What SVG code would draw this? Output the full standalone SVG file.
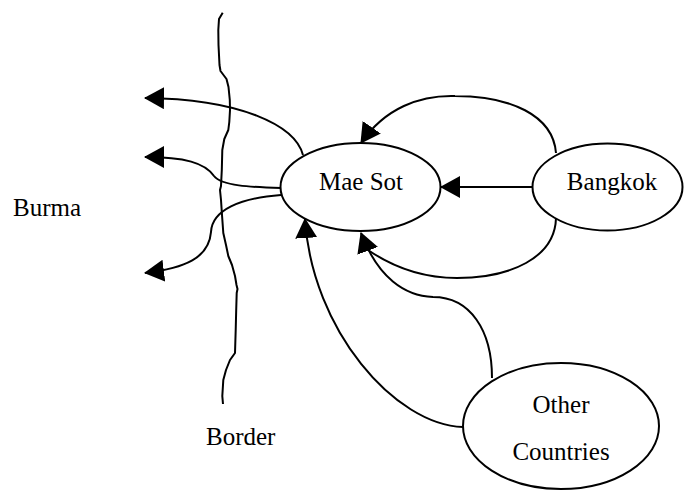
<svg xmlns="http://www.w3.org/2000/svg" width="684" height="491" viewBox="0 0 684 491">
<defs>
<marker id="arrow" markerUnits="userSpaceOnUse" markerWidth="20" markerHeight="22" viewBox="0 0 20 22" refX="19" refY="11" orient="auto">
<path d="M0,0 L20,11 L0,22 z" fill="#000"/>
</marker>
<style>
.node{fill:#fff;stroke:#000;stroke-width:2}
.edge{fill:none;stroke:#000;stroke-width:2}
.arr{marker-end:url(#arrow)}
text{font-family:"Liberation Serif","Times New Roman",serif;font-size:25px;fill:#000}
.c{text-anchor:middle}
</style>
</defs>
<rect width="684" height="491" fill="#fff"/>
<g id="border">
<path class="edge" stroke-linejoin="round" d="M222.7,12.7 L219,19 L218.3,30 L218.5,45 L219.5,65 L220.5,71 L226.5,79 L228.5,87 L229.8,100 L230,110 L229.3,122 L228.3,130 L224.3,139 L222.3,150 L221.8,170 L221,186 L220,190 L221,200 L222,215 L223.3,233 L226,245 L228.3,256 L232,265 L235,276 L236.5,285 L237.5,289 L236.7,293 L236.2,310 L235.7,330 L235,353 L230,360 L226,370 L223.3,380 L222.3,396 L223,404"/>
</g>
<g id="connectors">
<path class="edge arr" d="M532,187 L441,187"/>
<path class="edge arr" d="M556,153 C553,115 510,96 455,96 C420,95 385,108 361,143"/>
<path class="edge" d="M556,218 C555,258 510,278 457,278 C420,278 390,265 368,250"/>
<path class="edge arr" d="M492,378 C492,330 470,297 433,297 C405,296 378,278 361,233"/>
<path class="edge arr" d="M463,427 C395,425 312,330 305,219"/>
<path class="edge arr" d="M303,155 C295,125 240,99 145,98"/>
<path class="edge arr" d="M281,188 C250,187 222,186 214,176 C205,163 185,157 145,157"/>
<path class="edge arr" d="M281,195 C240,198 212,210 211,232 C209,258 185,268 145,273"/>
</g>
<g id="mae-sot">
<ellipse class="node" cx="360.5" cy="187" rx="80" ry="44"/>
<text class="c" x="361" y="190">Mae Sot</text>
</g>
<g id="bangkok">
<ellipse class="node" cx="607.5" cy="187" rx="75" ry="43.5"/>
<text class="c" x="612" y="189.5">Bangkok</text>
</g>
<g id="other-countries">
<ellipse class="node" cx="561" cy="426" rx="98" ry="63"/>
<text class="c" x="561" y="413">Other</text>
<text class="c" x="561" y="460">Countries</text>
</g>
<g id="labels">
<text x="13" y="216">Burma</text>
<text x="206" y="445">Border</text>
</g>
</svg>
